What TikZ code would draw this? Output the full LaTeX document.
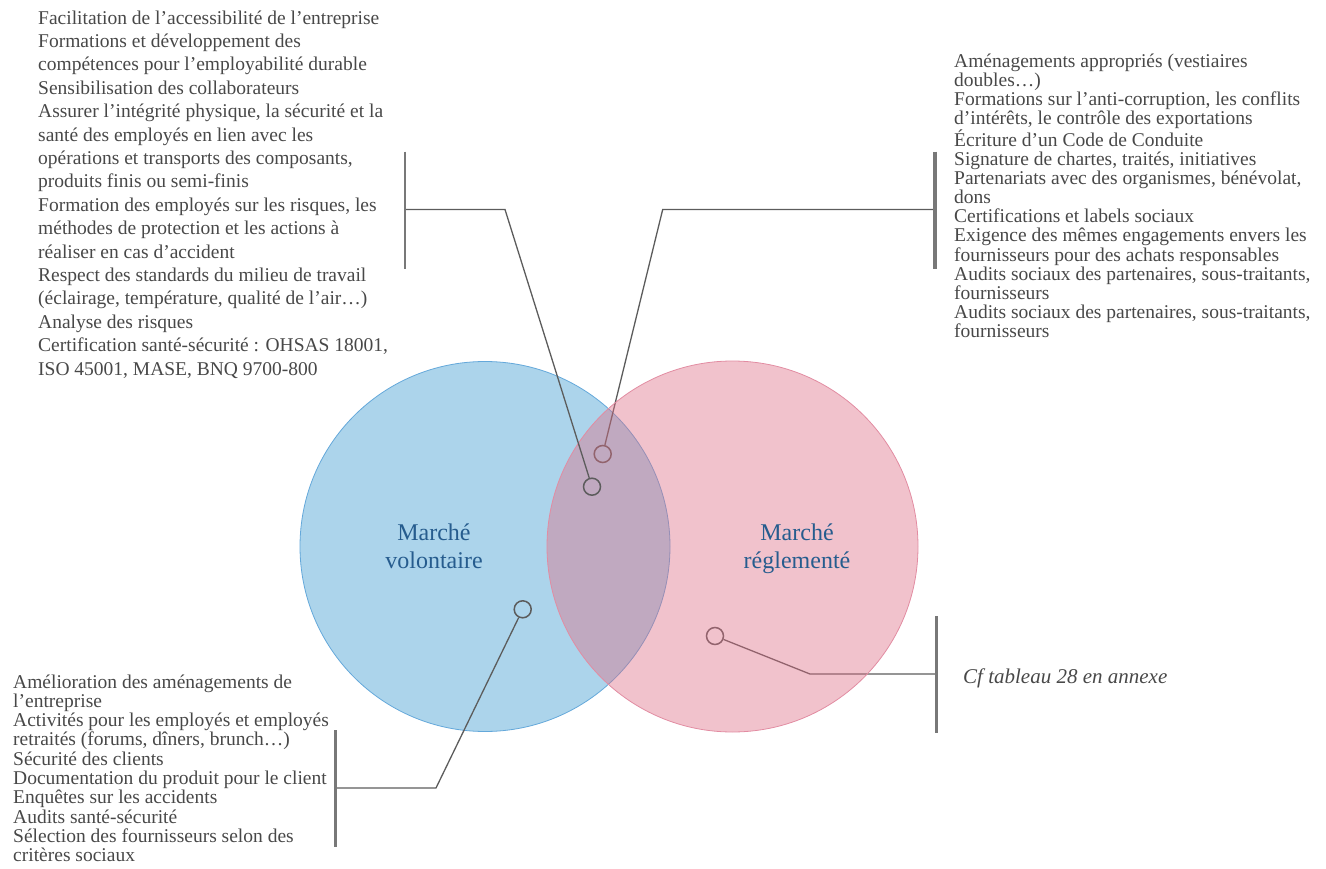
\documentclass[tikz,border=0pt]{standalone}
\usepackage{fontspec}
\setmainfont{Liberation Serif}
\definecolor{textgray}{RGB}{72,72,72}
\definecolor{linegray}{RGB}{92,92,92}
\definecolor{brkgray}{RGB}{120,120,120}
\definecolor{bluefill}{RGB}{172,212,235}
\definecolor{blueedge}{RGB}{100,168,218}
\definecolor{pinkraw}{RGB}{221,110,133}
\definecolor{pinkedge}{RGB}{226,140,162}
\definecolor{labelblue}{RGB}{38,92,142}
\begin{document}
\begin{tikzpicture}[x=1pt,y=-1pt,
  % multi-line nodes sit on the baseline of their last line
  txt/.style={anchor=base west, align=left, inner sep=0pt, text=textgray},
  marker/.style={circle, draw=linegray, line width=1.5pt, minimum size=17pt, inner sep=0pt},
  conn/.style={draw=linegray, line width=1.3pt},
  brk/.style={draw=brkgray, line width=3pt},
  setlabel/.style={anchor=base, align=center, inner sep=0pt, text=labelblue,
    font=\fontsize{24}{28}\selectfont}]
\useasboundingbox (0,0) rectangle (1326,869);

% the two sets
\fill[bluefill] (485,546.5) circle (185);
\draw[blueedge, line width=0.8pt] (485,546.5) circle (185);

% callouts of the regulated set, lying under its tint
\node[marker] (m2) at (602.7,454) {};
\node[marker] (m4) at (715,636) {};
\coordinate (b2) at (662.7,209.5);
\coordinate (k2) at (934.7,209.5);
\coordinate (b4) at (810,674);
\coordinate (k4) at (936.7,674);
\draw[conn] (m2) -- (b2) -- (k2);
\draw[conn] (m4) -- (b4) -- (k4);

\fill[pinkraw, fill opacity=0.42] (732.5,546.5) circle (185.5);
\draw[pinkedge, line width=0.8pt] (732.5,546.5) circle (185.5);

% callouts of the voluntary set
\node[marker] (m1) at (592,486.7) {};
\node[marker] (m3) at (522.7,609.3) {};
\coordinate (b1) at (505,209.5);
\coordinate (k1) at (405,209.5);
\coordinate (b3) at (436,788);
\coordinate (k3) at (335,788);
\draw[conn] (m1) -- (b1) -- (k1);
\draw[conn] (m3) -- (b3) -- (k3);

% brackets
\coordinate (k1t) at (405,151.7);  \coordinate (k1b) at (405,269.3);
\coordinate (k2t) at (934.7,151.7); \coordinate (k2b) at (934.7,269.3);
\coordinate (k3t) at (335,730);    \coordinate (k3b) at (335,847);
\coordinate (k4t) at (936.7,616);  \coordinate (k4b) at (936.7,732.7);
\draw[brk, line width=2.4pt] (k1t) -- (k1b);
\draw[brk, line width=3.6pt] (k2t) -- (k2b);
\draw[brk, line width=3pt] (k3t) -- (k3b);
\draw[brk, line width=3.3pt] (k4t) -- (k4b);

% set names
\node[setlabel] (vol) at (434,568) {Marché\\volontaire};
\node[setlabel] (reg) at (797,568) {Marché\\réglementé};

% texts
\node[txt, font=\fontsize{19.5}{23.4}\selectfont] (tl) at (38,375) {%
Facilitation de l’accessibilité de l’entreprise\\
Formations et développement des\\
compétences pour l’employabilité durable\\
Sensibilisation des collaborateurs\\
Assurer l’intégrité physique, la sécurité et la\\
santé des employés en lien avec les\\
opérations et transports des composants,\\
produits finis ou semi-finis\\
Formation des employés sur les risques, les\\
méthodes de protection et les actions à\\
réaliser en cas d’accident\\
Respect des standards du milieu de travail\\
(éclairage, température, qualité de l’air…)\\
Analyse des risques\\
Certification santé-sécurité : OHSAS 18001,\\
ISO 45001, MASE, BNQ 9700-800};

\node[txt, font=\fontsize{19.5}{19.1}\selectfont] (tr) at (954,337.4) {%
Aménagements appropriés (vestiaires\\
doubles…)\\
Formations sur l’anti-corruption, les conflits\\
d’intérêts, le contrôle des exportations\\
Écriture d’un Code de Conduite\\
Signature de chartes, traités, initiatives\\
Partenariats avec des organismes, bénévolat,\\
dons\\
Certifications et labels sociaux\\
Exigence des mêmes engagements envers les\\
fournisseurs pour des achats responsables\\
Audits sociaux des partenaires, sous-traitants,\\
fournisseurs\\
Audits sociaux des partenaires, sous-traitants,\\
fournisseurs};

\node[txt, font=\fontsize{19.5}{19.3}\selectfont] (bl) at (13,861.7) {%
Amélioration des aménagements de\\
l’entreprise\\
Activités pour les employés et employés\\
retraités (forums, dîners, brunch…)\\
Sécurité des clients\\
Documentation du produit pour le client\\
Enquêtes sur les accidents\\
Audits santé-sécurité\\
Sélection des fournisseurs selon des\\
critères sociaux};

\node[txt, font=\fontsize{21}{24}\itshape] (cf) at (963,683) {Cf tableau 28 en annexe};
\end{tikzpicture}
\end{document}
